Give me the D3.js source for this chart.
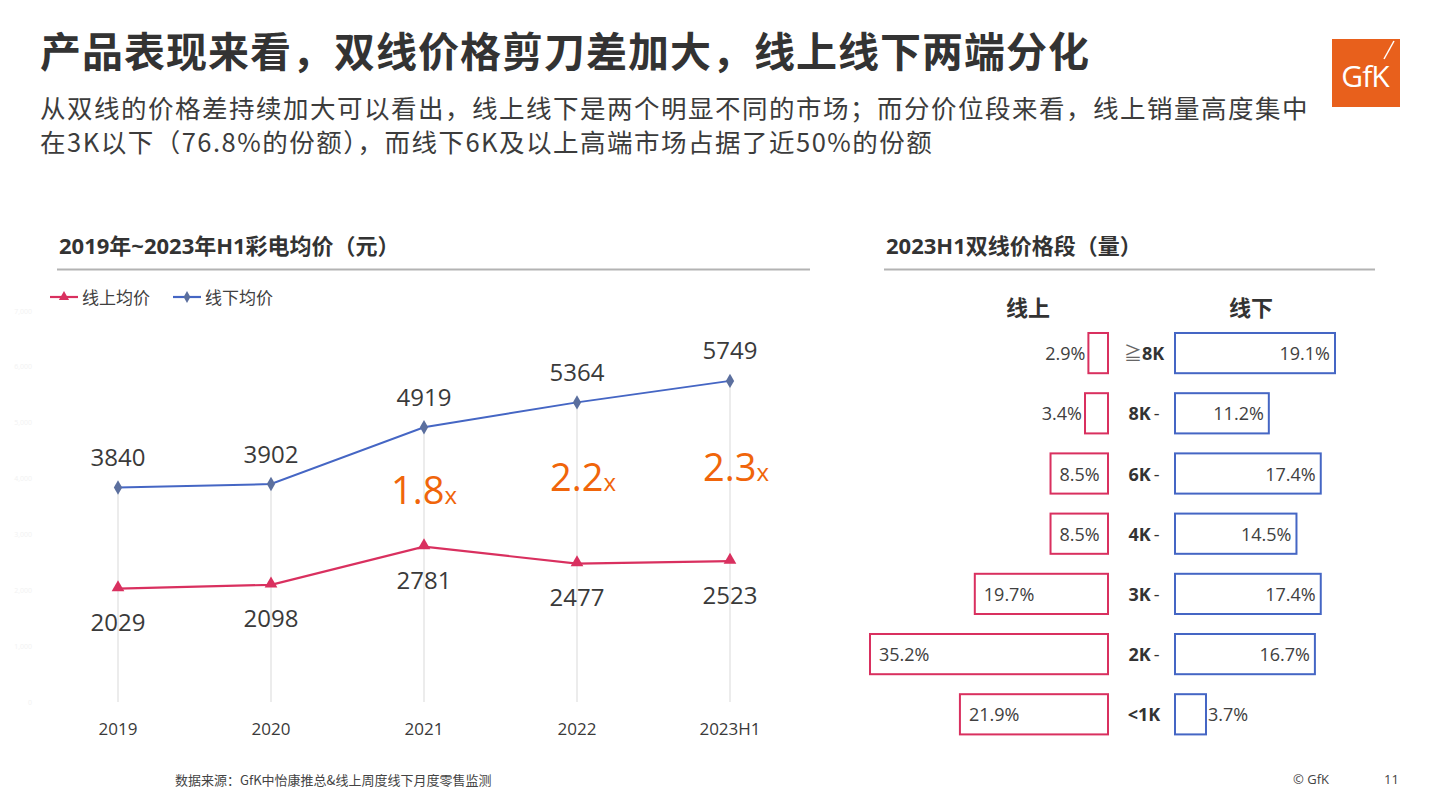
<!DOCTYPE html>
<html><head><meta charset="utf-8">
<script src="https://cdn.jsdelivr.net/npm/d3@7"></script>
<style>
html,body{margin:0;padding:0;background:#fff;}
svg{display:block;}
text{font-family:"Open Sans","Noto Sans CJK SC",sans-serif;}
.cjk{font-family:"Noto Sans CJK SC","Open Sans",sans-serif;}
</style></head>
<body>
<script>
// ---------- data ----------
const years = ["2019","2020","2021","2022","2023H1"];
const onlinePrice = [2029, 2098, 2781, 2477, 2523];
const offlinePrice = [3840, 3902, 4919, 5364, 5749];
const multipliers = [null, null, "1.8", "2.2", "2.3"];
const yTicks = [0,1000,2000,3000,4000,5000,6000,7000];

const priceBands = ["≧8K","8K-","6K-","4K-","3K-","2K-","<1K"];
const onlineShare = [2.9, 3.4, 8.5, 8.5, 19.7, 35.2, 21.9];
const offlineShare = [19.1, 11.2, 17.4, 14.5, 17.4, 16.7, 3.7];

const titleText = "产品表现来看，双线价格剪刀差加大，线上线下两端分化";
const subLines = ["从双线的价格差持续加大可以看出，线上线下是两个明显不同的市场；而分价位段来看，线上销量高度集中",
                  "在3K以下（76.8%的份额），而线下6K及以上高端市场占据了近50%的份额"];
const leftTitle = "2019年~2023年H1彩电均价（元）";
const rightTitle = "2023H1双线价格段（量）";
const legendNames = ["线上均价","线下均价"];
const sourceText = "数据来源：GfK中怡康推总&线上周度线下月度零售监测";

const RED = "#d9305f", BLUE = "#4566c4", ORANGE = "#f0650a", TXT = "#3a3a3a";

const svg = d3.select("body").append("svg").attr("width",1441).attr("height",810);

// ---------- headings ----------
svg.append("text").attr("class","cjk").attr("x",40).attr("y",49).attr("dominant-baseline","central")
  .attr("font-size",41).attr("font-weight",700).attr("letter-spacing",1).attr("fill","#333").text(titleText);
subLines.forEach((s,i)=>{
  svg.append("text").attr("class","cjk").attr("x",40).attr("y",106+i*34).attr("dominant-baseline","central")
    .attr("font-size",25.5).attr("letter-spacing",1.5).attr("fill","#3c3c3c").text(s);
});

// GfK logo
const logo = svg.append("g").attr("transform","translate(1332,39)");
logo.append("rect").attr("width",68).attr("height",68).attr("fill","#e8601c");
logo.append("text").attr("x",33).attr("y",36).attr("dominant-baseline","central").attr("text-anchor","middle")
  .attr("font-family","Open Sans").attr("font-size",30).attr("fill","#fff").attr("letter-spacing",-1).text("GfK");
logo.append("line").attr("x1",52).attr("y1",20).attr("x2",62).attr("y2",2).attr("stroke","#fff").attr("stroke-width",1.5);

// section headers
[[57,810,leftTitle],[884,1375,rightTitle]].forEach(([x0,x1,t])=>{
  svg.append("text").attr("x",x0+2).attr("y",245).attr("dominant-baseline","central")
    .attr("font-size",22).attr("font-weight",700).attr("fill","#333").text(t);
  svg.append("line").attr("x1",x0).attr("x2",x1).attr("y1",269.5).attr("y2",269.5)
    .attr("stroke","#b3b3b3").attr("stroke-width",2);
});

// ---------- left line chart ----------
const x = d3.scalePoint().domain(years).range([118,730]);
const y = d3.scaleLinear().domain([0,7000]).range([702,311]);

// faint y tick labels
svg.append("g").selectAll("text").data(yTicks).join("text")
  .attr("x",32).attr("y",d=>y(d)).attr("text-anchor","end").attr("dominant-baseline","central")
  .attr("font-size",7).attr("fill","#f2f2f2").text(d=>d3.format(",")(d));

// x axis labels
svg.append("g").selectAll("text").data(years).join("text")
  .attr("x",d=>x(d)).attr("y",728).attr("text-anchor","middle").attr("dominant-baseline","central")
  .attr("font-size",17).attr("fill",TXT).text(d=>d);

// drop lines
svg.append("g").selectAll("line").data(years).join("line")
  .attr("x1",d=>x(d)).attr("x2",d=>x(d)).attr("y1",(d,i)=>y(offlinePrice[i])).attr("y2",y(0))
  .attr("stroke","#d9d9d9").attr("stroke-width",1);

const line = d3.line().x((d,i)=>x(years[i])).y(d=>y(d));
svg.append("path").datum(offlinePrice).attr("d",line).attr("fill","none").attr("stroke",BLUE).attr("stroke-width",2);
svg.append("path").datum(onlinePrice).attr("d",line).attr("fill","none").attr("stroke",RED).attr("stroke-width",2.2);

const diamond = d3.symbol().type(d3.symbolDiamond).size(60);
const tri = d3.symbol().type(d3.symbolTriangle).size(70);
svg.append("g").selectAll("path").data(offlinePrice).join("path")
  .attr("d",diamond).attr("transform",(d,i)=>`translate(${x(years[i])},${y(d)})`).attr("fill","#5b6f9e");
svg.append("g").selectAll("path").data(onlinePrice).join("path")
  .attr("d",tri).attr("transform",(d,i)=>`translate(${x(years[i])},${y(d)-1})`).attr("fill",RED);

svg.append("g").selectAll("text").data(offlinePrice).join("text")
  .attr("x",(d,i)=>x(years[i])).attr("y",d=>y(d)-31).attr("text-anchor","middle").attr("dominant-baseline","central")
  .attr("font-size",24).attr("fill",TXT).text(d=>d);
svg.append("g").selectAll("text").data(onlinePrice).join("text")
  .attr("x",(d,i)=>x(years[i])).attr("y",d=>y(d)+33).attr("text-anchor","middle").attr("dominant-baseline","central")
  .attr("font-size",24).attr("fill",TXT).text(d=>d);

// multipliers (placed between the two lines, nudged like the original slide)
const multNudge = [0, 0, 4, -5, -3];
multipliers.forEach((m,i)=>{
  if(!m) return;
  const cx = x(years[i]) + (i===2?0:6);
  const cy = (y(offlinePrice[i]) + y(onlinePrice[i]))/2 + multNudge[i];
  const t = svg.append("text").attr("x",cx).attr("y",cy+13).attr("text-anchor","middle")
    .attr("fill",ORANGE);
  t.append("tspan").attr("font-size",38).text(m);
  t.append("tspan").attr("font-size",24).text("x");
});

// legend
[[RED,"tri",50],[BLUE,"dia",173]].forEach(([c,s,x0],i)=>{
  svg.append("line").attr("x1",x0).attr("x2",x0+28).attr("y1",297).attr("y2",297).attr("stroke",c).attr("stroke-width",2.2);
  svg.append("path").attr("d",(s==="tri"?d3.symbol().type(d3.symbolTriangle).size(45):d3.symbol().type(d3.symbolDiamond).size(40))())
    .attr("transform",`translate(${x0+14},297)`).attr("fill",s==="tri"?RED:"#5b6f9e");
  svg.append("text").attr("x",x0+32).attr("y",297).attr("dominant-baseline","central")
    .attr("font-size",17).attr("fill","#404040").text(legendNames[i]);
});

// ---------- right bar chart ----------
const band = d3.scaleBand().domain(priceBands).range([323, 323+7*60.2]).paddingInner(0.332).paddingOuter(0.166);
const xOn = d3.scaleLinear().domain([0,35.2]).range([0,238]);
const xOff = d3.scaleLinear().domain([0,19.1]).range([0,160]);
const onRight = 1108, offLeft = 1175;

svg.append("text").attr("x",1028).attr("y",307).attr("text-anchor","middle").attr("dominant-baseline","central")
  .attr("font-size",22).attr("font-weight",700).attr("fill","#333").text("线上");
svg.append("text").attr("x",1251).attr("y",307).attr("text-anchor","middle").attr("dominant-baseline","central")
  .attr("font-size",22).attr("font-weight",700).attr("fill","#333").text("线下");

const rows = svg.append("g").selectAll("g").data(priceBands).join("g");
rows.append("rect").attr("x",(d,i)=>onRight-xOn(onlineShare[i])).attr("y",d=>band(d))
  .attr("width",(d,i)=>xOn(onlineShare[i])).attr("height",band.bandwidth())
  .attr("fill","#fff").attr("stroke",RED).attr("stroke-width",2);
rows.append("rect").attr("x",offLeft).attr("y",d=>band(d))
  .attr("width",(d,i)=>xOff(offlineShare[i])).attr("height",band.bandwidth())
  .attr("fill","#fff").attr("stroke",BLUE).attr("stroke-width",2);

rows.append("text").attr("y",d=>band(d)+band.bandwidth()/2).attr("dominant-baseline","central")
  .attr("font-size",18).attr("fill","#404040")
  .each(function(d,i){
    const w = xOn(onlineShare[i]); const l = onRight - w;
    const s = d3.select(this);
    if(w > 50) s.attr("x",l+9).attr("text-anchor","start");
    else s.attr("x",l-3).attr("text-anchor","end");
  }).text((d,i)=>onlineShare[i].toFixed(1)+"%");
rows.append("text").attr("y",d=>band(d)+band.bandwidth()/2).attr("dominant-baseline","central")
  .attr("font-size",18).attr("fill","#404040")
  .each(function(d,i){
    const w = xOff(offlineShare[i]);
    const s = d3.select(this);
    if(w > 60) s.attr("x",offLeft+w-5).attr("text-anchor","end");
    else s.attr("x",offLeft+w+2).attr("text-anchor","start");
  }).text((d,i)=>offlineShare[i].toFixed(1)+"%");

rows.append("text").attr("x",1144).attr("y",d=>band(d)+band.bandwidth()/2).attr("dominant-baseline","central")
  .attr("text-anchor","middle").attr("font-size",18).attr("font-weight",700).attr("fill","#333")
  .each(function(d){
    const s = d3.select(this);
    if(d.startsWith("≧")){ s.append("tspan").attr("font-weight",400).attr("fill","#666").text("≧"); s.append("tspan").text(d.slice(1)); }
    else if(d.endsWith("-")){ s.append("tspan").text(d.slice(0,-1)); s.append("tspan").attr("font-weight",400).attr("dx",3).text("-"); }
    else s.text(d);
  });

// ---------- footer ----------
svg.append("text").attr("class","cjk").attr("x",175).attr("y",779).attr("dominant-baseline","central")
  .attr("font-size",13).attr("fill","#444").text(sourceText);
svg.append("text").attr("x",1293).attr("y",779).attr("dominant-baseline","central").attr("font-size",13).attr("fill","#444").text("© GfK");
svg.append("text").attr("x",1384).attr("y",779).attr("dominant-baseline","central").attr("font-size",13).attr("fill","#444").text("11");
</script>
</body></html>
